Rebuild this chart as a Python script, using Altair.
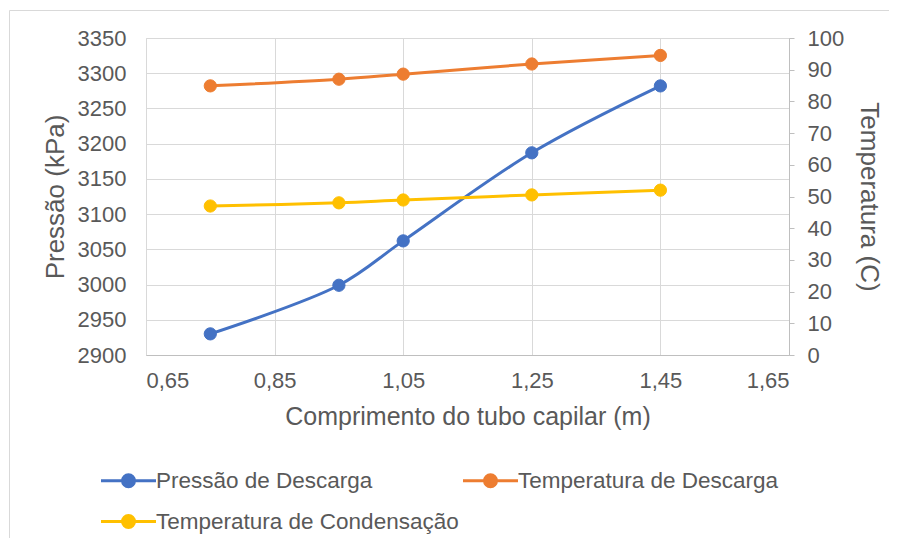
import altair as alt
import pandas as pd

comprimento = [0.75, 0.95, 1.05, 1.25, 1.45]
pressao_descarga = [2930, 2999, 3062, 3187, 3282]
temp_descarga = [84.9, 87.0, 88.6, 91.8, 94.5]
temp_condensacao = [47.0, 48.0, 48.9, 50.5, 52.0]

series_names = ["Pressão de Descarga", "Temperatura de Descarga", "Temperatura de Condensação"]
series_colors = ["#4472C4", "#ED7D31", "#FFC000"]
# legend entries are filled column by column in a 2-column grid
legend_order = [series_names[0], series_names[2], series_names[1]]
legend_colors = [series_colors[0], series_colors[2], series_colors[1]]

x_ticks = [0.65, 0.85, 1.05, 1.25, 1.45, 1.65]
y_left_ticks = [2900, 2950, 3000, 3050, 3100, 3150, 3200, 3250, 3300, 3350]
y_right_ticks = [0, 10, 20, 30, 40, 50, 60, 70, 80, 90, 100]

df_p = pd.DataFrame({"x": comprimento, "v": pressao_descarga, "s": series_names[0]})
df_t = pd.concat([
    pd.DataFrame({"x": comprimento, "v": temp_descarga, "s": series_names[1]}),
    pd.DataFrame({"x": comprimento, "v": temp_condensacao, "s": series_names[2]}),
])

FONT = "Liberation Sans"
GREY = "#595959"

stroke_scale = alt.Scale(domain=legend_order, range=legend_colors)
# line 55px long (-2.75..2.75 units at 10px/unit) with a dot of radius 6px
legend_path = "M-2.75,0L2.75,0M-0.6,0a0.6,0.6 0 1,0 1.2,0a0.6,0.6 0 1,0 -1.2,0"
legend = alt.Legend(
    title=None, orient="none", legendX=-29, legendY=431, columns=2,
    symbolType=legend_path, symbolSize=400, symbolStrokeWidth=3,
    labelFont=FONT, labelFontSize=22.5, labelColor=GREY, labelOffset=16,
    columnPadding=-2, rowPadding=16, labelLimit=500, padding=0,
)

x_enc = alt.X("x:Q", scale=alt.Scale(domain=[0.65, 1.65], nice=False, zero=False),
              axis=alt.Axis(values=x_ticks, title="Comprimento do tubo capilar (m)",
                            labelExpr="replace(format(datum.value, '.2f'), '.', ',')",
                            grid=True, gridColor="#d9d9d9", domainColor="#bfbfbf",
                            ticks=False, labelPadding=15, titlePadding=13,
                            labelFontSize=22, titleFontSize=25,
                            titleFontWeight="normal", titleColor=GREY, labelColor=GREY))

y_left = alt.Y("v:Q", scale=alt.Scale(domain=[2900, 3350], nice=False, zero=False),
               axis=alt.Axis(values=y_left_ticks, title="Pressão (kPa)", orient="left",
                             grid=True, gridColor="#d9d9d9", domain=False, ticks=False,
                             labelPadding=20, titlePadding=9, format="d",
                             labelFontSize=22, titleFontSize=26, titleFontWeight="normal",
                             titleColor=GREY, labelColor=GREY))
y_right = alt.Y("v:Q", scale=alt.Scale(domain=[0, 100], nice=False),
                axis=alt.Axis(values=y_right_ticks, title="Temperatura (C)", orient="right",
                              grid=False, domain=True, domainColor="#bfbfbf",
                              ticks=True, tickColor="#bfbfbf", tickSize=5,
                              labelPadding=13, titlePadding=12,
                              labelFontSize=22, titleFontSize=26, titleFontWeight="normal",
                              titleColor=GREY, labelColor=GREY))

stroke_enc = alt.Stroke("s:N", scale=stroke_scale, legend=legend)
fill_enc = alt.Fill("s:N", scale=stroke_scale, legend=legend)

left = alt.layer(
    alt.Chart(df_p).mark_line(strokeWidth=3, interpolate="catmull-rom").encode(x=x_enc, y=y_left, stroke=stroke_enc),
    alt.Chart(df_p).mark_point(size=150, opacity=1, strokeWidth=1).encode(x=x_enc, y=y_left, stroke=stroke_enc, fill=fill_enc),
)
right = alt.layer(
    alt.Chart(df_t).mark_line(strokeWidth=3, interpolate="catmull-rom").encode(x=x_enc, y=y_right, stroke=stroke_enc, detail="s:N"),
    alt.Chart(df_t).mark_point(size=150, opacity=1, strokeWidth=1).encode(x=x_enc, y=y_right, stroke=stroke_enc, fill=fill_enc),
)

frame = alt.Chart(pd.DataFrame({"a": [0]})).mark_rect(
    fill=None, stroke="#d9d9d9", strokeWidth=1
).encode(x=alt.value(-136.5), x2=alt.value(820), y=alt.value(-27.5), y2=alt.value(560))

chart = alt.layer(frame, left, right).resolve_scale(y="independent").properties(
    width=643, height=317,
    autosize=alt.AutoSizeParams(type="none"),
    padding={"left": 138, "top": 30, "right": 100, "bottom": 183},
).configure_axis(
    labelFont=FONT, titleFont=FONT, labelColor=GREY, titleColor=GREY, titleFontWeight="normal",
).configure_view(stroke=None).configure(background="white")

chart.save("out.html", embed_options={"renderer": "svg", "actions": False})
